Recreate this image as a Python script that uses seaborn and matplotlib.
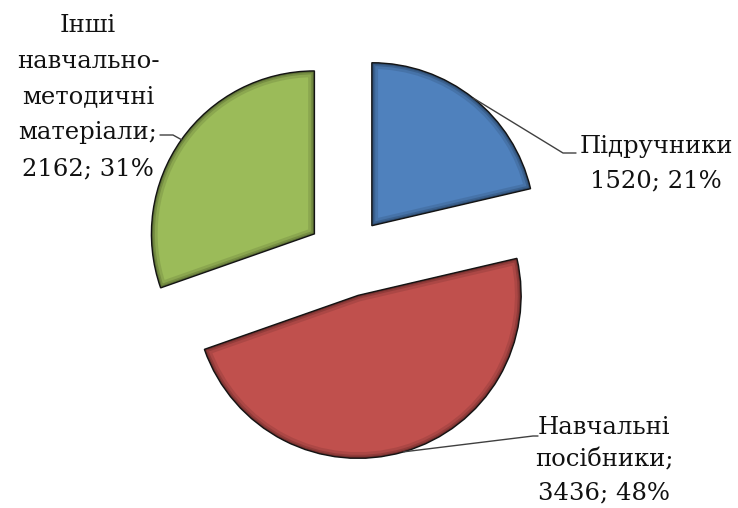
import numpy as np
import matplotlib
matplotlib.use("Agg")
import matplotlib.pyplot as plt
import matplotlib.patches as mpatches
import seaborn as sns

# Дані діаграми
categories = ["Підручники", "Навчальні посібники", "Інші навчально-методичні матеріали"]
values = [1520, 3436, 2162]
shares = [21, 48, 31]          # відсотки як у підписах (округлення Excel)
label_names = ["Підручники", "Навчальні\nпосібники;", "Інші\nнавчально-\nметодичні\nматеріали;"]
colors = ["#4F81BD", "#C0504D", "#9BBB59"]

sns.set_theme(style="white")
plt.rcParams["font.family"] = ["DejaVu Serif"]

W, H = 738, 508
fig = plt.figure(figsize=(W / 100, H / 100), dpi=100)
fig.patch.set_facecolor("white")
ax = fig.add_axes([0, 0, 1, 1])

# центр і радіус у пікселях
cx, cy, R = 347, 257, 163


def px(x, y):
    return ((x - cx) / R, (cy - y) / R)


wedges, _ = ax.pie(values, colors=colors, startangle=90, counterclock=False,
                   explode=[0.245] * 3, radius=1,
                   wedgeprops=dict(edgecolor="#1a1a1a", linewidth=1.0))

x0, _ = px(0, 0)
x1, _ = px(W, 0)
_, y0 = px(0, H)
_, y1 = px(0, 0)
ax.set_xlim(x0, x1)
ax.set_ylim(y0, y1)
ax.set_aspect("equal", adjustable="box")
ax.axis("off")

# темна м'яка кромка всередині сегментів
for w in wedges:
    for lw, a in [(9, 0.10), (5, 0.15), (2.5, 0.2)]:
        inner = mpatches.Wedge(w.center, w.r, w.theta1, w.theta2, facecolor="none",
                               edgecolor="black", linewidth=lw, alpha=a, zorder=3)
        ax.add_patch(inner)
        inner.set_clip_path(w)

# підписи та лінії-виноски
text_pos = [(656, 164), (604, 460), (88, 97)]
spacing = [1.62, 1.55, 1.72]
elbows = [[(563, 153), (576, 153)], [(533, 436), (538, 436)], [(173, 135), (160, 135)]]

for w, name, val, sh, tp, sp, el in zip(wedges, label_names, values, shares, text_pos, spacing, elbows):
    t = np.deg2rad((w.theta1 + w.theta2) / 2)
    mx = w.center[0] + w.r * np.cos(t)
    my = w.center[1] + w.r * np.sin(t)
    pts = [(mx, my)] + [px(*p) for p in el]
    ax.plot([p[0] for p in pts], [p[1] for p in pts], color="#404040", lw=1.0, zorder=4)
    tx, ty = px(*tp)
    ax.text(tx, ty, f"{name}\n{val}; {sh}%", ha="center", va="center", multialignment="center",
            fontsize=17.5, color="#111111", linespacing=sp)

fig.savefig("out.png", dpi=100, facecolor="white")
